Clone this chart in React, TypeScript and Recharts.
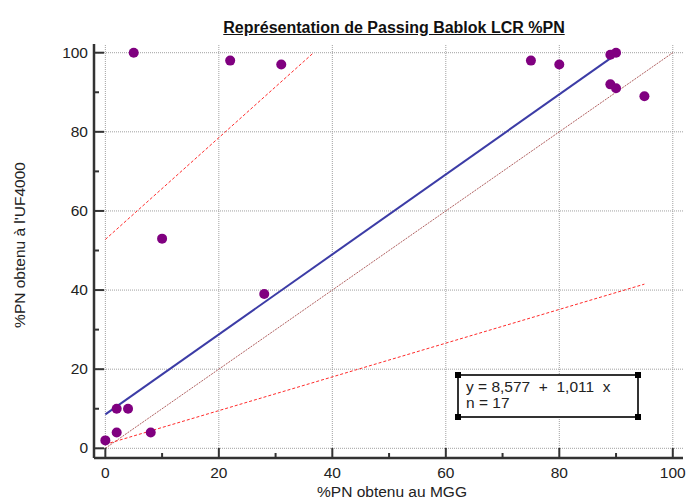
import React from "react";
import { ScatterChart, Scatter, XAxis, YAxis, ReferenceLine } from "recharts";

// valeurs
const mggValues = [5, 22, 31, 10, 28, 2, 4, 2, 8, 0, 75, 80, 89, 90, 89, 90, 95];
const uf4000Values = [100, 98, 97, 53, 39, 10, 10, 4, 4, 2, 98, 97, 99.5, 100, 92, 91, 89];

const intercept = 8.577;
const slope = 1.011;
const regressionX = [0, 90];

const upperCiX = [0, 36.7];
const upperCiY = [52.8, 100];
const lowerCiX = [0, 95];
const lowerCiY = [1, 41.5];

const majorTicks = [0, 20, 40, 60, 80, 100];
const allTicks = [0, 10, 20, 30, 40, 50, 60, 70, 80, 90, 100];

const points = mggValues.map((x, i) => ({ x, y: uf4000Values[i] }));

const FONT = "'Liberation Sans', Arial, sans-serif";
const AXIS = "#333333";

const YTick = (props: any) => {
  const { x, y, payload } = props;
  const major = payload.value % 20 === 0;
  return (
    <g>
      <line x1={x} x2={x + (major ? 10 : 5)} y1={y} y2={y} stroke={AXIS} strokeWidth={2} />
      {major && (
        <text x={x - 6} y={y + 5} textAnchor="end" fontSize={15.5} fontFamily={FONT} fill="#222">
          {payload.value}
        </text>
      )}
    </g>
  );
};

const XTick = (props: any) => {
  const { x, y, payload } = props;
  const major = payload.value % 20 === 0;
  return (
    <g>
      <line x1={x} x2={x} y1={y} y2={y - (major ? 10 : 5)} stroke={AXIS} strokeWidth={2} />
      {major && (
        <text x={x} y={y + 20} textAnchor="middle" fontSize={15.5} fontFamily={FONT} fill="#222">
          {payload.value}
        </text>
      )}
    </g>
  );
};

const Dot = (props: any) => <circle cx={props.cx} cy={props.cy} r={5} fill="#800080" />;

const corner: React.CSSProperties = { position: "absolute", width: 6, height: 6, background: "#000" };

export default function App() {
  return (
    <div style={{ position: "absolute", left: 0, top: 0, width: 687, height: 503, background: "#fff", fontFamily: FONT }}>
      <div
        style={{
          position: "absolute", left: 0, width: 788, top: 19, textAlign: "center",
          fontWeight: "bold", fontSize: 16, textDecoration: "underline", color: "#111",
        }}
      >
        Représentation de Passing Bablok LCR %PN
      </div>
      <ScatterChart width={687} height={503} margin={{ top: 44, right: 4, bottom: 15, left: 34 }}>
        <XAxis
          type="number"
          dataKey="x"
          domain={[-2, 101.8]}
          ticks={allTicks}
          interval={0}
          tick={<XTick />}
          tickLine={false}
          tickSize={0}
          tickMargin={0}
          height={30}
          axisLine={{ stroke: AXIS, strokeWidth: 2.5 }}
        />
        <YAxis
          type="number"
          dataKey="y"
          domain={[-2.45, 102.2]}
          ticks={allTicks}
          interval={0}
          tick={<YTick />}
          tickLine={false}
          tickSize={0}
          tickMargin={0}
          width={60}
          axisLine={{ stroke: AXIS, strokeWidth: 2.5 }}
        />
        {majorTicks.map((v) => (
          <ReferenceLine key={"gx" + v} x={v} stroke="#a0a0a0" strokeDasharray="1 1" />
        ))}
        {majorTicks.map((v) => (
          <ReferenceLine key={"gy" + v} y={v} stroke="#a0a0a0" strokeDasharray="1 1" />
        ))}
        <ReferenceLine
          segment={[{ x: 0, y: 0 }, { x: 100, y: 100 }]}
          stroke="#b06060"
          strokeWidth={1}
          strokeDasharray="2 1"
        />
        <ReferenceLine
          segment={[{ x: upperCiX[0], y: upperCiY[0] }, { x: upperCiX[1], y: upperCiY[1] }]}
          stroke="#ff2a2a"
          strokeWidth={1}
          strokeDasharray="3 2"
        />
        <ReferenceLine
          segment={[{ x: lowerCiX[0], y: lowerCiY[0] }, { x: lowerCiX[1], y: lowerCiY[1] }]}
          stroke="#ff2a2a"
          strokeWidth={1}
          strokeDasharray="3 2"
        />
        <ReferenceLine
          segment={[
            { x: regressionX[0], y: intercept + slope * regressionX[0] },
            { x: regressionX[1], y: intercept + slope * regressionX[1] },
          ]}
          stroke="#3c3ca6"
          strokeWidth={2}
        />
        <Scatter data={points} shape={<Dot />} isAnimationActive={false} />
      </ScatterChart>
      <div style={{ position: "absolute", left: 0, width: 784, top: 483, textAlign: "center", fontSize: 15.5, color: "#222" }}>
        %PN obtenu au MGG
      </div>
      <div
        style={{
          position: "absolute", left: 20, top: 245, width: 0, height: 0,
        }}
      >
        <div
          style={{
            position: "absolute", left: -150, top: -9, width: 300, textAlign: "center",
            transform: "rotate(-90deg)", fontSize: 15.5, color: "#222", whiteSpace: "nowrap",
          }}
        >
          %PN obtenu à l'UF4000
        </div>
      </div>
      <div
        style={{
          position: "absolute", left: 457, top: 374, width: 178, height: 40,
          border: "2px solid #333", background: "#fff",
        }}
      >
        <div style={{ position: "absolute", left: -4, top: -4, ...corner }} />
        <div style={{ position: "absolute", right: -4, top: -4, ...corner }} />
        <div style={{ position: "absolute", left: -4, bottom: -4, ...corner }} />
        <div style={{ position: "absolute", right: -4, bottom: -4, ...corner }} />
        <div style={{ position: "absolute", left: 7, top: 3, fontSize: 15.5, lineHeight: "16px", color: "#222", whiteSpace: "pre" }}>
          {"y = 8,577  +  1,011  x\nn = 17"}
        </div>
      </div>
    </div>
  );
}
